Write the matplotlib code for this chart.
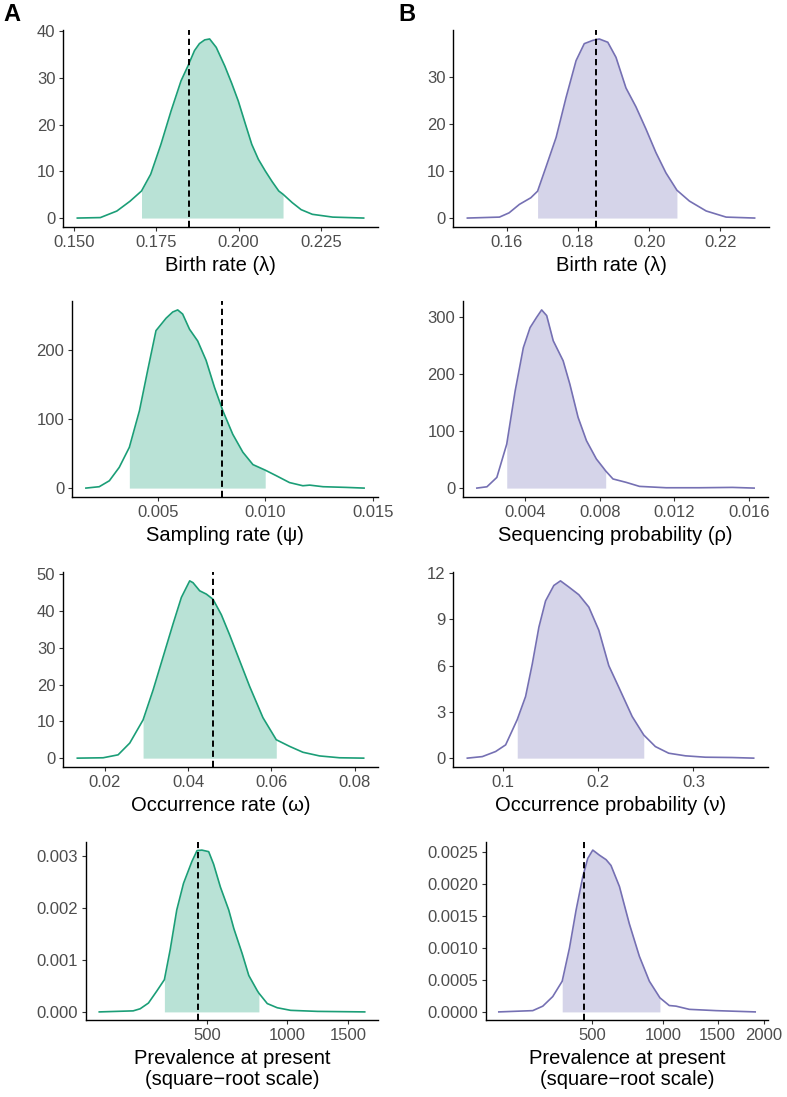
import numpy as np
import matplotlib.pyplot as plt

plt.rcParams['font.family'] = ['Liberation Sans', 'DejaVu Sans']

green = '#1b9e77'
green_fill = '#b9e2d6'
purple = '#7570b3'
purple_fill = '#d5d4e9'

# A: birth rate
a1_x = [0.151, 0.158, 0.163, 0.167, 0.1705, 0.1733, 0.1764, 0.1795, 0.1825, 0.1846, 0.1866, 0.1881, 0.1897,
        0.1912, 0.1932, 0.1958, 0.1979, 0.1999, 0.2020, 0.2040, 0.2060, 0.2081, 0.2102, 0.2122, 0.2135, 0.2163,
        0.2190, 0.2224, 0.2286, 0.238]
a1_y = [0, 0.1, 1.5, 3.6, 5.8, 9.4, 15.8, 23.0, 29.4, 32.6, 35.9, 37.4, 38.2,
        38.4, 36.6, 32.6, 28.9, 25.1, 20.3, 15.8, 12.6, 10.1, 7.8, 5.8, 5.1, 3.3,
        1.8, 0.8, 0.2, 0]
a1_hpd = (0.1705, 0.2135)
a1_true = 0.185

# B: birth rate
b1_x = [0.149, 0.158, 0.1607, 0.1636, 0.1668, 0.1687, 0.1710, 0.1739, 0.1767, 0.1795, 0.1818, 0.1842, 0.1860,
        0.1884, 0.1907, 0.1935, 0.1963, 0.1991, 0.2019, 0.2047, 0.2078, 0.2113, 0.2160, 0.2216, 0.2296]
b1_y = [0, 0.2, 1.1, 2.9, 4.3, 5.7, 10.7, 17.1, 25.6, 33.4, 37.0, 37.7, 38.0,
        37.3, 34.1, 27.6, 23.6, 18.9, 13.9, 9.6, 5.9, 3.6, 1.5, 0.2, 0]
b1_hpd = (0.1687, 0.2078)
b1_true = 0.185

# A: sampling rate
a2_x = [0.00166, 0.00228, 0.00275, 0.00321, 0.00368, 0.00415, 0.00453, 0.00492, 0.00539, 0.00570, 0.00593,
        0.00616, 0.00648, 0.00686, 0.00725, 0.00764, 0.00803, 0.00849, 0.00896, 0.00943, 0.01000, 0.01051,
        0.01113, 0.01175, 0.01207, 0.01269, 0.01377, 0.0146]
a2_y = [0, 2, 10.6, 30, 59, 112, 170, 228, 246, 255, 258,
        252, 230, 213, 185, 146, 112, 78, 52, 34, 26, 18,
        8, 3.4, 4.3, 2, 1, 0]
a2_hpd = (0.00368, 0.01000)
a2_true = 0.008

# B: sequencing probability
b2_x = [0.00142, 0.00196, 0.00249, 0.00302, 0.00347, 0.00391, 0.00427, 0.00462, 0.00489, 0.00516, 0.00551,
        0.00604, 0.00640, 0.00684, 0.00729, 0.00782, 0.00818, 0.00832, 0.00871, 0.00942, 0.01013, 0.01156,
        0.01333, 0.01511, 0.01627]
b2_y = [0, 2.3, 18.7, 77, 170, 246, 281, 299, 312, 302, 258,
        223, 182, 124, 83, 51, 36, 30, 16, 10, 3, 0.6,
        0.6, 1.2, 0]
b2_hpd = (0.00302, 0.00832)

# A: occurrence rate
a3_x = [0.0134, 0.0196, 0.0232, 0.0260, 0.0292, 0.0316, 0.0340, 0.0364, 0.0384, 0.0404, 0.0412, 0.0428, 0.0444,
        0.0460, 0.0480, 0.0500, 0.0524, 0.0548, 0.0580, 0.0612, 0.0644, 0.0676, 0.0716, 0.0764, 0.0822]
a3_y = [0, 0.1, 0.9, 4.1, 10.4, 18.5, 27.5, 36.5, 43.7, 48.2, 47.7, 45.5, 44.6,
        43.2, 39.0, 33.5, 26.5, 19.5, 11.0, 5.0, 3.2, 1.6, 0.6, 0.1, 0]
a3_hpd = (0.0292, 0.0612)
a3_true = 0.046

# B: occurrence probability
b3_x = [0.0622, 0.078, 0.092, 0.1025, 0.1147, 0.1235, 0.1305, 0.1375, 0.1445, 0.1532, 0.1602, 0.169, 0.1795,
        0.19, 0.2005, 0.211, 0.2215, 0.2356, 0.2478, 0.26, 0.274, 0.2916, 0.3126, 0.3406, 0.3634]
b3_y = [0, 0.1, 0.43, 0.86, 2.5, 4.0, 6.1, 8.5, 10.2, 11.2, 11.5, 11.1, 10.6,
        9.8, 8.3, 6.0, 4.6, 2.7, 1.5, 0.75, 0.32, 0.15, 0.06, 0.04, 0]
b3_hpd = (0.1147, 0.2478)

# A: prevalence at present
a4_x = [98, 191, 214, 243, 274, 304, 328, 356, 386, 425, 450, 474, 509,
        535, 572, 619, 649, 699, 740, 794, 805, 861, 930, 1027, 1236, 1650]
a4_y = [0, 0.00002, 0.00006, 0.00017, 0.0004, 0.00062, 0.0012, 0.00196, 0.00247, 0.00289, 0.0031, 0.00311, 0.00308,
        0.00284, 0.0024, 0.00196, 0.0016, 0.00112, 0.0007, 0.00041, 0.00036, 0.00016, 0.00008, 0.00003, 0.00001, 0]
a4_hpd = (304, 805)
a4_true = 455

# B: prevalence at present
b4_x = [105, 215, 255, 298, 342, 378, 412, 448, 476, 505, 545, 586, 617,
        673, 741, 814, 890, 974, 1051, 1109, 1227, 1482, 1901]
b4_y = [0, 0.00002, 0.00009, 0.00024, 0.00048, 0.001, 0.00159, 0.00211, 0.0024, 0.00253, 0.00245, 0.00238, 0.00229,
        0.00196, 0.00138, 0.00087, 0.00048, 0.00022, 0.0001, 0.00009, 0.00004, 0.00002, 0]
b4_hpd = (342, 974)
b4_true = 455

W, H = 787, 1097
fig = plt.figure(figsize=(W / 100, H / 100), dpi=100)


def sq(v):
    v = np.asarray(v, dtype=float)
    return np.sign(v) * np.sqrt(np.abs(v))


def unsq(v):
    v = np.asarray(v, dtype=float)
    return np.sign(v) * v ** 2


def px_axes(x0, y0, x1, y1):
    return fig.add_axes([x0 / W, 1 - y1 / H, (x1 - x0) / W, (y1 - y0) / H])


def panel(ax, xs, ys, hpd, truth, col, fillcol, xticks, xlabels, yticks, ylabels, title, sqrt=False):
    xs = np.array(xs)
    ys = np.array(ys)
    if sqrt:
        ax.set_xscale('function', functions=(sq, unsq))
    mask = (xs >= hpd[0]) & (xs <= hpd[1])
    ax.fill_between(xs, 0, ys, where=mask, color=fillcol, lw=0)
    ax.plot(xs, ys, color=col, lw=1.2, solid_joinstyle='round')
    if truth is not None:
        ax.axvline(truth, color='black', ls=(0, (3.2, 2)), lw=1.4)
    if sqrt:
        a, b = sq(xs.min()), sq(xs.max())
        pad = 0.05 * (b - a)
        ax.set_xlim(unsq(a - pad), unsq(b + pad))
    else:
        pad = 0.05 * (xs.max() - xs.min())
        ax.set_xlim(xs.min() - pad, xs.max() + pad)
    ax.set_ylim(-0.05 * ys.max(), 1.05 * ys.max())
    ax.set_xticks(xticks)
    ax.set_xticklabels(xlabels)
    ax.set_yticks(yticks)
    ax.set_yticklabels(ylabels)
    ax.xaxis.set_minor_locator(plt.NullLocator())
    for s in ['top', 'right']:
        ax.spines[s].set_visible(False)
    for s in ['left', 'bottom']:
        ax.spines[s].set_linewidth(1.0)
    ax.tick_params(direction='out', length=3, width=0.8, color='#333333',
                   labelsize=12, labelcolor='#4d4d4d', pad=2.5)
    ax.set_xlabel(title, fontsize=14.5, color='black', labelpad=4.5, linespacing=1.12)


ax = px_axes(63, 30, 378, 227)
panel(ax, a1_x, a1_y, a1_hpd, a1_true, green, green_fill,
      [0.150, 0.175, 0.200, 0.225], ['0.150', '0.175', '0.200', '0.225'],
      [0, 10, 20, 30, 40], ['0', '10', '20', '30', '40'], 'Birth rate (λ)')

ax = px_axes(453, 30, 769, 227)
panel(ax, b1_x, b1_y, b1_hpd, b1_true, purple, purple_fill,
      [0.16, 0.18, 0.20, 0.22], ['0.16', '0.18', '0.20', '0.22'],
      [0, 10, 20, 30], ['0', '10', '20', '30'], 'Birth rate (λ)')

ax = px_axes(72, 301, 378, 497)
panel(ax, a2_x, a2_y, a2_hpd, a2_true, green, green_fill,
      [0.005, 0.010, 0.015], ['0.005', '0.010', '0.015'],
      [0, 100, 200], ['0', '100', '200'], 'Sampling rate (ψ)')

ax = px_axes(463, 301, 768, 497)
panel(ax, b2_x, b2_y, b2_hpd, None, purple, purple_fill,
      [0.004, 0.008, 0.012, 0.016], ['0.004', '0.008', '0.012', '0.016'],
      [0, 100, 200, 300], ['0', '100', '200', '300'], 'Sequencing probability (ρ)')

ax = px_axes(63, 572, 378, 767)
panel(ax, a3_x, a3_y, a3_hpd, a3_true, green, green_fill,
      [0.02, 0.04, 0.06, 0.08], ['0.02', '0.04', '0.06', '0.08'],
      [0, 10, 20, 30, 40, 50], ['0', '10', '20', '30', '40', '50'], 'Occurrence rate (ω)')

ax = px_axes(453, 572, 768, 767)
panel(ax, b3_x, b3_y, b3_hpd, None, purple, purple_fill,
      [0.1, 0.2, 0.3], ['0.1', '0.2', '0.3'],
      [0, 3, 6, 9, 12], ['0', '3', '6', '9', '12'], 'Occurrence probability (ν)')

ax = px_axes(86, 842, 378, 1020)
panel(ax, a4_x, a4_y, a4_hpd, a4_true, green, green_fill,
      [500, 1000, 1500], ['500', '1000', '1500'],
      [0, 0.001, 0.002, 0.003], ['0.000', '0.001', '0.002', '0.003'],
      'Prevalence at present\n(square\u2212root scale)', sqrt=True)

ax = px_axes(486, 842, 768, 1020)
panel(ax, b4_x, b4_y, b4_hpd, b4_true, purple, purple_fill,
      [500, 1000, 1500, 2000], ['500', '1000', '1500', '2000'],
      [0, 0.0005, 0.001, 0.0015, 0.002, 0.0025],
      ['0.0000', '0.0005', '0.0010', '0.0015', '0.0020', '0.0025'],
      'Prevalence at present\n(square\u2212root scale)', sqrt=True)

fig.text(3 / W, 1 - 3 / H, 'A', fontsize=17, fontweight='bold', va='top', ha='left')
fig.text(398 / W, 1 - 3 / H, 'B', fontsize=17, fontweight='bold', va='top', ha='left')

fig.savefig('out.png', dpi=100)
